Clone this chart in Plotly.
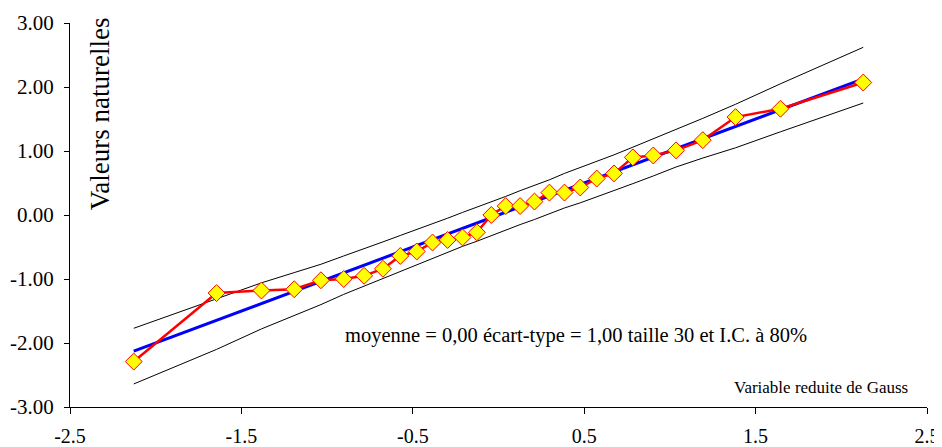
import plotly.graph_objects as go

# Normal scores (Hazen plotting positions, n = 30)
gauss_x = [-2.128, -1.645, -1.383, -1.192, -1.036, -0.903, -0.784, -0.674, -0.573, -0.477,
           -0.385, -0.297, -0.210, -0.126, -0.042, 0.042, 0.126, 0.210, 0.297, 0.385,
           0.477, 0.573, 0.674, 0.784, 0.903, 1.036, 1.192, 1.383, 1.645, 2.128]

# Observed (sorted) natural values
valeurs = [-2.29, -1.22, -1.18, -1.16, -1.02, -1.00, -0.95, -0.84, -0.64, -0.57,
           -0.43, -0.39, -0.35, -0.27, 0.00, 0.14, 0.14, 0.21, 0.35, 0.35,
           0.43, 0.57, 0.65, 0.90, 0.93, 1.01, 1.17, 1.53, 1.66, 2.07]

# Fitted line (moyenne 0,00 ; écart-type 1,00)
droite_x = [-2.128, 2.128]
droite_y = [-2.128, 2.128]

# 80 % confidence band
ic_haut = [-1.77, -1.31, -1.06, -0.90, -0.77, -0.64, -0.52, -0.42, -0.32, -0.23,
           -0.14, -0.05, 0.04, 0.12, 0.21, 0.29, 0.38, 0.46, 0.55, 0.65,
           0.74, 0.84, 0.94, 1.06, 1.19, 1.34, 1.51, 1.73, 2.05, 2.62]
ic_bas = [-2.64, -2.10, -1.78, -1.57, -1.40, -1.24, -1.11, -0.99, -0.88, -0.78,
          -0.68, -0.59, -0.49, -0.41, -0.32, -0.24, -0.15, -0.07, 0.02, 0.11,
          0.19, 0.28, 0.38, 0.49, 0.61, 0.75, 0.89, 1.05, 1.30, 1.75]

x_ticks = [-2.5, -1.5, -0.5, 0.5, 1.5, 2.5]
y_ticks = [-3, -2, -1, 0, 1, 2, 3]

FONT = "Liberation Serif"

fig = go.Figure()
fig.add_trace(go.Scatter(x=gauss_x, y=ic_haut, mode="lines",
                         line=dict(color="black", width=1), showlegend=False))
fig.add_trace(go.Scatter(x=gauss_x, y=ic_bas, mode="lines",
                         line=dict(color="black", width=1), showlegend=False))
fig.add_trace(go.Scatter(x=droite_x, y=droite_y, mode="lines",
                         line=dict(color="#0000FF", width=3), showlegend=False))
fig.add_trace(go.Scatter(x=gauss_x, y=valeurs, mode="lines+markers",
                         line=dict(color="#FF0000", width=2.5),
                         marker=dict(symbol="diamond", size=13, color="#FFFF00",
                                     line=dict(color="#FF0000", width=1)),
                         showlegend=False))

fig.update_layout(
    width=934, height=439,
    margin=dict(l=62, r=15, t=15, b=40),
    paper_bgcolor="white", plot_bgcolor="white",
    font=dict(family=FONT, size=18, color="black"),
    xaxis=dict(range=[-2.5, 2.5], tickvals=x_ticks, ticktext=[f"{v:.1f}" for v in x_ticks],
               showgrid=False, zeroline=False, showline=True, linecolor="black", linewidth=1,
               ticks="outside", ticklen=6, tickcolor="black", ticklabelstandoff=5,
               automargin=False, tickfont=dict(family=FONT, size=20)),
    yaxis=dict(range=[-3, 3], tickvals=y_ticks, ticktext=[f"{v:.2f}" for v in y_ticks],
               showgrid=False, zeroline=False, showline=True, linecolor="black", linewidth=1,
               ticks="outside", ticklen=5, tickcolor="black", ticklabelstandoff=6,
               automargin=False, tickfont=dict(family=FONT, size=21)),
    annotations=[
        dict(text="Valeurs naturelles", xref="paper", yref="paper", x=0.035, y=0.765,
             xanchor="center", yanchor="middle",
             textangle=-90, showarrow=False, font=dict(family=FONT, size=27)),
        dict(text="Variable reduite de Gauss", xref="paper", yref="paper", x=0.980, y=0.052,
             xanchor="right", yanchor="middle", showarrow=False, font=dict(family=FONT, size=17)),
        dict(text="moyenne = 0,00 écart-type = 1,00 taille 30 et I.C. à 80%",
             xref="paper", yref="paper", x=0.590, y=0.1875, xanchor="center", yanchor="middle",
             showarrow=False, font=dict(family=FONT, size=20.5)),
    ],
)

fig.write_html("out.html")
